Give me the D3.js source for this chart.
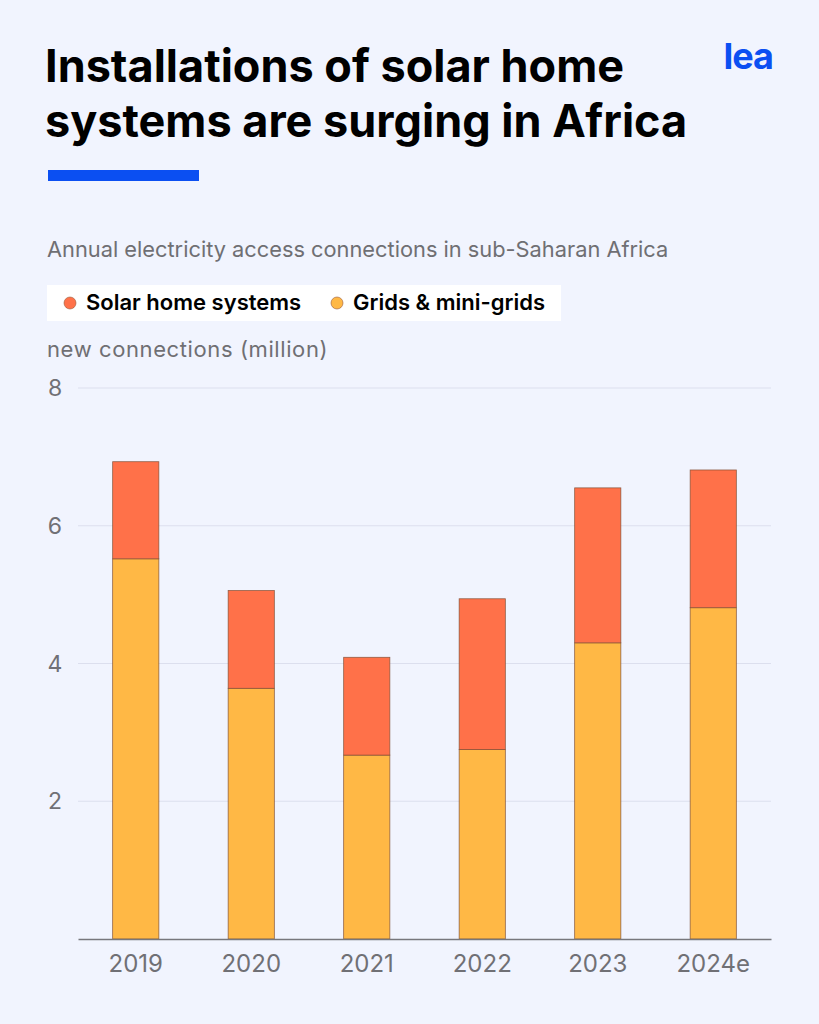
<!DOCTYPE html>
<html>
<head>
<meta charset="utf-8">
<script src="https://cdn.jsdelivr.net/npm/d3@7"></script>
<style>
  body { margin: 0; background: #f1f4fe; }
  svg { display: block; font-family: Inter, "Noto Sans", sans-serif; }
</style>
</head>
<body>
<script>
// chart data
var years = ["2019", "2020", "2021", "2022", "2023", "2024e"];
var grids = [5.52, 3.64, 2.67, 2.75, 4.30, 4.81];
var solar = [1.41, 1.42, 1.42, 2.19, 2.25, 2.00];
var yTicks = [2, 4, 6, 8];
var seriesNames = ["Solar home systems", "Grids & mini-grids"];

var width = 819, height = 1024;
var margin = {top: 388, right: 48, bottom: 85, left: 78};
var colors = {solar: "#ff7149", grids: "#ffb845"};

var svg = d3.select("body").append("svg")
  .attr("width", width)
  .attr("height", height);

svg.append("rect").attr("width", width).attr("height", height).attr("fill", "#f1f4fe");

// title
svg.append("text").attr("x", 45).attr("y", 82)
  .attr("font-size", "45px").attr("font-weight", 700).attr("fill", "#000")
  .text("Installations of solar home");
svg.append("text").attr("x", 45).attr("y", 137)
  .attr("font-size", "45px").attr("font-weight", 700).attr("fill", "#000")
  .text("systems are surging in Africa");
svg.append("rect").attr("x", 48).attr("y", 170).attr("width", 151).attr("height", 11).attr("fill", "#0b4ff2");

// logo
svg.append("text").attr("x", 773).attr("y", 69).attr("text-anchor", "end")
  .attr("font-size", "36px").attr("font-weight", 700).attr("fill", "#0b4ff2")
  .attr("letter-spacing", "-1px")
  .text("lea");

svg.append("text").attr("x", 47).attr("y", 257)
  .attr("font-size", "21.8px").attr("fill", "#6f6f73")
  .text("Annual electricity access connections in sub-Saharan Africa");

// legend
svg.append("rect").attr("x", 47).attr("y", 285).attr("width", 514).attr("height", 36).attr("fill", "#fff");
var legendX = [70, 337];
var legendCol = [colors.solar, colors.grids];
seriesNames.forEach(function(n, i) {
  svg.append("circle").attr("cx", legendX[i]).attr("cy", 303).attr("r", 6)
    .attr("fill", legendCol[i]).attr("stroke", "#9a5a3a").attr("stroke-width", 0.6);
  svg.append("text").attr("x", legendX[i] + 16).attr("y", 310)
    .attr("font-size", "22px").attr("font-weight", 600).attr("fill", "#000")
    .text(n);
});

svg.append("text").attr("x", 47).attr("y", 357)
  .attr("font-size", "22px").attr("fill", "#6f6f73").attr("letter-spacing", "0.6px")
  .text("new connections (million)");

var x = d3.scaleBand().domain(years)
  .range([margin.left, width - margin.right])
  .paddingInner(0.6).paddingOuter(0.3);
var y = d3.scaleLinear().domain([0, 8]).range([height - margin.bottom, margin.top]);

// grid
svg.selectAll(".grid").data(yTicks).enter().append("line")
  .attr("x1", margin.left).attr("x2", width - margin.right)
  .attr("y1", function(d) { return y(d); }).attr("y2", function(d) { return y(d); })
  .attr("stroke", "#dcdfee").attr("stroke-width", 1);

svg.selectAll(".ylab").data(yTicks).enter().append("text")
  .attr("x", 55).attr("y", function(d) { return y(d) + 8; })
  .attr("text-anchor", "middle").attr("font-size", "23px").attr("fill", "#707075")
  .text(function(d) { return d; });

var data = years.map(function(yr, i) { return {year: yr, grids: grids[i], solar: solar[i]}; });
var stack = d3.stack().keys(["grids", "solar"])(data);

svg.selectAll(".layer").data(stack).enter().append("g")
  .attr("fill", function(d) { return colors[d.key]; })
  .selectAll("rect").data(function(d) { return d; }).enter().append("rect")
  .attr("x", function(d) { return x(d.data.year); })
  .attr("width", x.bandwidth())
  .attr("y", function(d) { return y(d[1]); })
  .attr("height", function(d) { return y(d[0]) - y(d[1]); })
  .attr("stroke", "#7a4a30").attr("stroke-width", 0.8).attr("stroke-opacity", 0.8);

// x axis
var xAxis = svg.append("g")
  .attr("transform", "translate(0," + y(0) + ")")
  .call(d3.axisBottom(x).tickSize(0).tickPadding(16));
xAxis.select(".domain").attr("stroke", "#77777c").attr("stroke-width", 1.5);
xAxis.selectAll("text").attr("font-size", "24px").attr("fill", "#707075")
  .attr("font-family", "Inter, 'Noto Sans', sans-serif");
</script>
</body>
</html>
